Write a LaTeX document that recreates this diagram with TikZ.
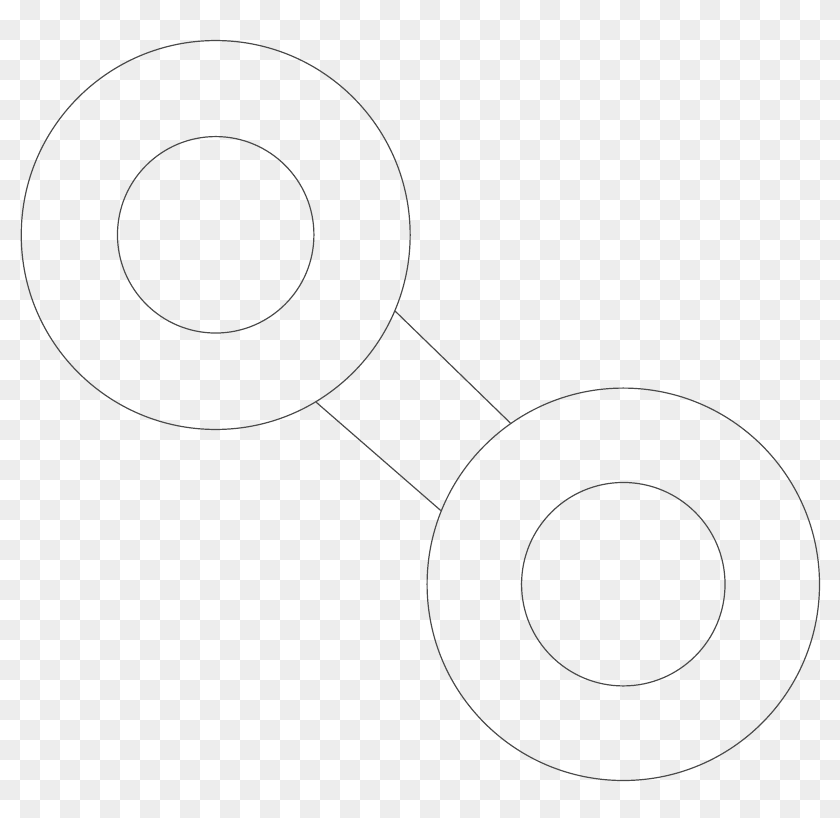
\documentclass[tikz,border=0pt]{standalone}
\usepackage{tikz}
\usetikzlibrary{positioning}
\definecolor{checkgray}{HTML}{EDEDED}
\definecolor{inkgray}{HTML}{4A4A4A}
\tikzset{
  disc/.style={circle, draw=inkgray, line width=0.68pt, inner sep=0pt},
  rim/.style={disc, minimum size=#1}
}

\begin{document}
\begin{tikzpicture}[x=0.02cm,y=-0.02cm]
        \useasboundingbox (0,0) rectangle (840,818);
        \begin{scope}
          \clip (0,0) rectangle (840,818);
          \foreach \i in {0,...,41}
            \foreach \j in {0,...,40}{
              \pgfmathtruncatemacro\s{\i+\j}
              \ifodd\s \fill[checkgray] (20*\i,20*\j) rectangle ++(20,20); \fi
            };
        \end{scope}
        \node[rim=7.78cm] (lo) at (215.7,235) {};
        \node[rim=3.93cm] (li) at (215.7,234.8) {};
        \node[rim=7.85cm] (ro) at (623.3,584.3) {};
        \node[rim=4.07cm] (ri) at (623.3,584.2) {};
        \path[draw=inkgray, line width=0.68pt]
        (lo.-23.5)
        edge [] (ro.125.7)
        (lo.-59.5)
        edge [] (ro.158.8)
        ;
      \end{tikzpicture}
\end{document}
